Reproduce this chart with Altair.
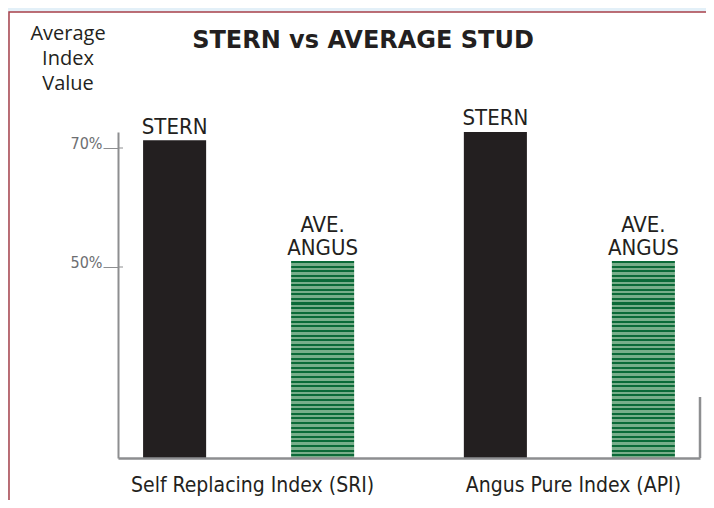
import altair as alt
import pandas as pd

# ---- data ----
groups = ["Self Replacing Index (SRI)", "Angus Pure Index (API)"]
series = ["STERN", "AVE. ANGUS"]
stern_values = [71.3, 72.9]
angus_values = [51.0, 51.0]
label_top = {"STERN": "", "AVE. ANGUS": "AVE."}
label_bottom = {"STERN": "STERN", "AVE. ANGUS": "ANGUS"}
tick_values = [50, 70]

rows = []
for g, s_v, a_v in zip(groups, stern_values, angus_values):
    for s, v in (("STERN", s_v), ("AVE. ANGUS", a_v)):
        rows.append({"group": g, "series": s, "value": v,
                     "top": label_top[s], "bottom": label_bottom[s]})
df = pd.DataFrame(rows)
ticks_df = pd.DataFrame({"v": tick_values})
one = pd.DataFrame({"a": [0]})

NARROW = "Liberation Sans Narrow, DejaVu Sans Condensed, sans-serif"
REG = "Open Sans, Noto Sans, sans-serif"
INK = "#231f20"
GRAY = "#8d8e90"

W, H = 582, 326
ymin, ymax = 17.9, 72.69

# striped green fill
n = 66
stops = []
dark, light = "#0b6a38", "#78ae8a"
for i in range(n):
    a = i / n
    b = (i + 0.45) / n
    c = (i + 1) / n
    stops += [alt.GradientStop(offset=a, color=dark), alt.GradientStop(offset=b, color=dark),
              alt.GradientStop(offset=b, color=light), alt.GradientStop(offset=c, color=light)]
green = alt.Gradient(gradient="linear", stops=stops, x1=0, x2=0, y1=0, y2=1)

xenc = alt.X("group:N", scale=alt.Scale(domain=groups, paddingInner=0.3, paddingOuter=0.0572),
             axis=alt.Axis(title=None, ticks=False, domainColor=GRAY, domainWidth=2.5,
                           labelFont=NARROW, labelFontSize=21, labelColor=INK, labelPadding=16,
                           labelAngle=0, labelLimit=0, labelOffset=4, zindex=1))
xoff = alt.XOffset("series:N", scale=alt.Scale(domain=series, paddingInner=0.574, paddingOuter=0.0455))
yscale = alt.Scale(domain=[ymin, ymax], zero=False, nice=False)
yenc = alt.Y("value:Q", scale=yscale,
             axis=alt.Axis(title=None, values=tick_values, labelExpr="datum.value + '%'",
                           grid=False, domainColor=GRAY, domainWidth=2, tickColor=GRAY, tickWidth=1,
                           tickSize=15, labelPadding=1, labelFont=NARROW, labelFontSize=16,
                           labelColor="#6d6e71", labelBaseline="alphabetic", zindex=1))

panel = alt.Chart(one).mark_rect(fill="white", stroke="#a8404a", strokeWidth=1.5).encode(
    x=alt.value(-109), x2=alt.value(700), y=alt.value(-120), y2=alt.value(600))

stern_bars = alt.Chart(df).transform_filter(alt.datum.series == "STERN").mark_bar(
    color=INK, clip=True).encode(x=xenc, xOffset=xoff, y=yenc)
angus_bars = alt.Chart(df).transform_filter(alt.datum.series == "AVE. ANGUS").mark_bar(
    color=green, clip=True).encode(x=xenc, xOffset=xoff, y=yenc)

labels_bottom = alt.Chart(df).mark_text(font=NARROW, fontSize=22, color=INK, baseline="alphabetic",
                                        dy=-6).encode(
    x=alt.X("group:N"), xOffset="series:N", y="value:Q", text="bottom:N")
labels_top = alt.Chart(df).mark_text(font=NARROW, fontSize=22, color=INK, baseline="alphabetic",
                                     dy=-29).encode(
    x=alt.X("group:N"), xOffset="series:N", y="value:Q", text="top:N")

tick_ext = alt.Chart(ticks_df).mark_rule(color=GRAY, strokeWidth=1).encode(
    x=alt.value(0), x2=alt.value(5), y=alt.Y("v:Q", scale=yscale))

right_line = alt.Chart(one).mark_rule(color=GRAY, strokeWidth=2.5).encode(
    x=alt.value(582), y=alt.value(265), y2=alt.value(H))

title = alt.Chart(one).mark_text(text="STERN vs AVERAGE STUD", font="DejaVu Sans", fontWeight="bold",
                                 fontSize=24, color=INK, baseline="alphabetic").encode(
    x=alt.value(245), y=alt.value(-84))

ytitle = alt.Chart(one).mark_text(text=["Average", "Index", "Value"], font=REG, fontSize=20,
                                  color=INK, baseline="alphabetic", lineHeight=25).encode(
    x=alt.value(-50), y=alt.value(-92))

chart = alt.layer(panel, stern_bars, angus_bars, labels_bottom, labels_top, tick_ext, right_line,
                  title, ytitle).properties(
    width=W, height=H, background="#e3f0f8",
    padding={"left": 110, "top": 124, "right": 6, "bottom": 42},
    autosize=alt.AutoSizeParams(type="none"),
).configure_view(stroke=None)

chart.save("out.html", embed_options={"renderer": "svg", "actions": False})
